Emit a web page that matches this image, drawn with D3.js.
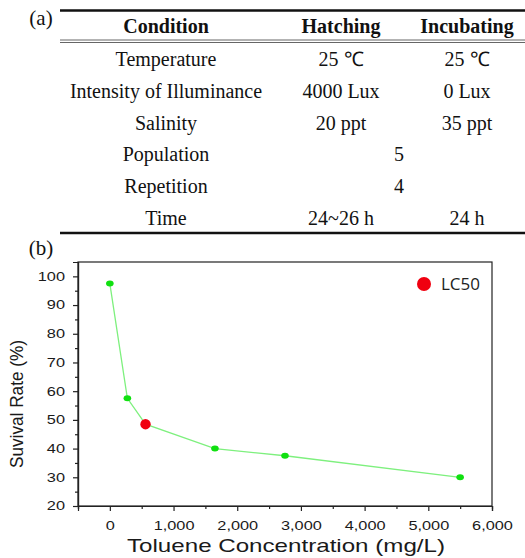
<!DOCTYPE html>
<html><head><meta charset="utf-8">
<script src="https://cdn.jsdelivr.net/npm/d3@7"></script>
<style>body{margin:0;background:#fff}</style>
</head><body>
<script>
// ---- Table data ----
const tableHeader = ["Condition", "Hatching", "Incubating"];
const tableRows = [
  ["Temperature", "25 \u2103", "25 \u2103"],
  ["Intensity of Illuminance", "4000 Lux", "0 Lux"],
  ["Salinity", "20 ppt", "35 ppt"],
  ["Population", "5", null],
  ["Repetition", "4", null],
  ["Time", "24~26 h", "24 h"]
];
// ---- Chart data ----
const concentration = [0, 275, 560, 1650, 2750, 5500];
const survival = [97.5, 57.5, 48.5, 40, 37.5, 30];
const lc50Index = 2;
const xTicks = [0, 1000, 2000, 3000, 4000, 5000, 6000];
const yTicks = [20, 30, 40, 50, 60, 70, 80, 90, 100];

const W = 525, H = 558;
const svg = d3.select("body").append("svg").attr("width", W).attr("height", H);

// ---- Table ----
const serif = "'Liberation Serif','Times New Roman',serif";
const colX = [166, 341, 467];
svg.append("text").attr("x", 41).attr("y", 25).attr("text-anchor","middle")
  .attr("font-family", serif).attr("font-size", 21).attr("fill","#111").text("(a)");
svg.append("line").attr("x1",60).attr("x2",525).attr("y1",10.5).attr("y2",10.5).attr("stroke","#111").attr("stroke-width",2.5);
svg.append("line").attr("x1",60).attr("x2",525).attr("y1",40).attr("y2",40).attr("stroke","#666").attr("stroke-width",1);
svg.append("line").attr("x1",60).attr("x2",525).attr("y1",42.5).attr("y2",42.5).attr("stroke","#666").attr("stroke-width",1);
svg.append("line").attr("x1",60).attr("x2",525).attr("y1",233).attr("y2",233).attr("stroke","#111").attr("stroke-width",2.5);
tableHeader.forEach((h,i)=>{
  svg.append("text").attr("x", colX[i]).attr("y", 33).attr("text-anchor","middle")
    .attr("font-family", serif).attr("font-weight","bold").attr("font-size", 20).attr("fill","#111").text(h);
});
const rowY = d3.scalePoint().domain(d3.range(tableRows.length)).range([66, 225]);
tableRows.forEach((r,ri)=>{
  const y = rowY(ri);
  const add = (xx, t) => svg.append("text").attr("x", xx).attr("y", y).attr("text-anchor","middle")
    .attr("font-family", serif).attr("font-size", 20).attr("fill","#111").text(t);
  add(colX[0], r[0]);
  if (r[2] === null) {
    add(399, r[1]);
  } else {
    add(colX[1], r[1]);
    add(colX[2], r[2]);
  }
});

// ---- Chart ----
svg.append("text").attr("x", 41).attr("y", 255).attr("text-anchor","middle")
  .attr("font-family", serif).attr("font-size", 21).attr("fill","#111").text("(b)");
const sans = "'Liberation Sans',Arial,sans-serif";
const L = 78, R = 492, T = 262, B = 506;
const x = d3.scaleLinear().domain([-500, 6000]).range([L, R]);
const y = d3.scaleLinear().domain([20, 105]).range([B, T]);
const stretch = 1.36;

svg.append("rect").attr("x",L).attr("y",T).attr("width",R-L).attr("height",B-T)
  .attr("fill","none").attr("stroke","#222").attr("stroke-width",1.2);

const xAxis = svg.append("g").attr("transform",`translate(0,${B})`)
  .call(d3.axisBottom(x).tickValues(xTicks).tickFormat(d3.format(",")).tickSize(5).tickPadding(10));
const xMinor = svg.append("g").attr("transform",`translate(0,${B})`)
  .call(d3.axisBottom(x).tickValues(d3.range(-500, 6001, 1000)).tickFormat("").tickSize(3));
const yAxis = svg.append("g").attr("transform",`translate(${L},0)`)
  .call(d3.axisLeft(y).tickValues(yTicks).tickSize(5).tickPadding(8));
const yMinor = svg.append("g").attr("transform",`translate(${L},0)`)
  .call(d3.axisLeft(y).tickValues(d3.range(25, 105, 10)).tickFormat("").tickSize(3));
[xAxis, xMinor, yAxis, yMinor].forEach(g=>{
  g.select(".domain").attr("stroke","#222").attr("stroke-width",1.2);
  g.selectAll(".tick line").attr("stroke","#222").attr("stroke-width",1.2);
  g.selectAll("text").attr("font-family", sans).attr("font-size", 12).attr("fill","#1a1a1a");
});
xAxis.selectAll(".tick text").attr("transform", `scale(${stretch},1)`);
yAxis.selectAll(".tick text").attr("x", -13/stretch).attr("transform", `scale(${stretch},1)`);

svg.append("text").attr("transform",`translate(23,404) rotate(-90)`)
  .attr("text-anchor","middle").attr("font-family", sans).attr("font-size", 18).attr("fill","#1a1a1a")
  .attr("textLength", 128).attr("lengthAdjust","spacingAndGlyphs")
  .text("Suvival Rate (%)");
svg.append("text").attr("x", 286).attr("y", 552).attr("text-anchor","middle")
  .attr("font-family", sans).attr("font-size", 19).attr("fill","#1a1a1a")
  .attr("textLength", 318).attr("lengthAdjust","spacingAndGlyphs")
  .text("Toluene Concentration (mg/L)");

const pts = concentration.map((c,i)=>({c, s: survival[i], i}));
svg.append("path").datum(pts)
  .attr("d", d3.line().x(d=>x(d.c)).y(d=>y(d.s)))
  .attr("fill","none").attr("stroke","#7ef07e").attr("stroke-width",1.3);
svg.selectAll("ellipse.pt").data(pts.filter(d=>d.i!==lc50Index)).enter().append("ellipse")
  .attr("cx", d=>x(d.c)).attr("cy", d=>y(d.s)).attr("rx",3.8).attr("ry",3).attr("fill","#10e010");
svg.selectAll("circle.lc").data(pts.filter(d=>d.i===lc50Index)).enter().append("circle")
  .attr("cx", d=>x(d.c)).attr("cy", d=>y(d.s)).attr("r",5.2).attr("fill","#f00010");

// legend
svg.append("circle").attr("cx",424).attr("cy",284).attr("r",7).attr("fill","#f00010");
svg.append("text").attr("x",441).attr("y",290).attr("font-family","'Open Sans',sans-serif")
  .attr("font-size",17).attr("fill","#222").text("LC50");
</script>
</body></html>
